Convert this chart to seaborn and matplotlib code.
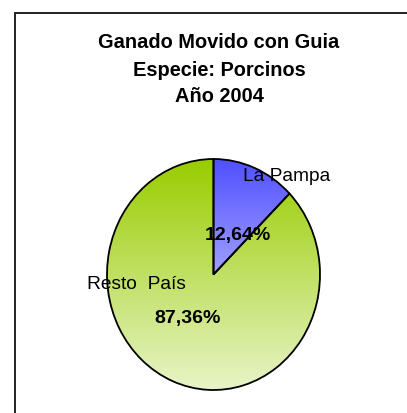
import numpy as np
import matplotlib
matplotlib.use("Agg")
import matplotlib.pyplot as plt
import matplotlib.patches as mpatches
import seaborn as sns

# data
regions = ["La Pampa", "Resto  País"]
shares = [12.64, 87.36]
pct_labels = ["12,64%", "87,36%"]
top_colors = ["#5050ff", "#99cc00"]
bottom_colors = ["#f0f0ff", "#e8f4c8"]
title_lines = ["Ganado Movido con Guia", "Especie: Porcinos", "Año 2004"]

sns.set_theme(style="white")
plt.rcParams['font.family'] = ['Liberation Sans', 'DejaVu Sans']

W, H = 407, 413
fig = plt.figure(figsize=(W / 100, H / 100), dpi=100)
fig.patch.set_facecolor("white")

# pie box in pixels (center 213.5, 274.5 from top; slightly taller than wide)
cx, cy, rx, ry = 213.5, 274.5, 106.5, 115.5
ax = fig.add_axes([(cx - rx) / W, (H - cy - ry) / H, 2 * rx / W, 2 * ry / H])

wedges, _ = ax.pie(shares, startangle=90, counterclock=False, radius=1,
                   wedgeprops=dict(edgecolor="black", linewidth=1.3))
ax.set_aspect("auto")
ax.set_xlim(-1, 1)
ax.set_ylim(-1, 1)
ax.axis("off")

# vertical gradient fill per wedge
for w, c_top, c_bot in zip(wedges, top_colors, bottom_colors):
    grad = np.array(sns.blend_palette([c_top, c_bot], n_colors=256))[:, None, :]
    im = ax.imshow(grad, extent=(-1, 1, -1, 1), aspect="auto", origin="upper",
                   zorder=0.5, interpolation="bilinear")
    im.set_clip_path(w)
    w.set_facecolor("none")
    w.set_zorder(1)

# label positions (axes data units)
name_pos = [(0.69, 0.85), (-0.72, -0.09)]
pct_pos = [(0.23, 0.34), (-0.24, -0.38)]
for name, pct, npos, ppos in zip(regions, pct_labels, name_pos, pct_pos):
    ax.text(npos[0], npos[1], name, ha="center", va="center", fontsize=13.8,
            color="black", zorder=3)
    ax.text(ppos[0], ppos[1], pct, ha="center", va="center", fontsize=14,
            fontweight="bold", color="black", zorder=3)

for i, line in enumerate(title_lines):
    fig.text(219 / W, 1 - (43 + 27 * i) / H, line, ha="center", va="center",
             fontsize=14.4, fontweight="bold", color="black")

# chart area border (only left and top visible in the crop)
fig.add_artist(mpatches.Rectangle((15 / W, -0.1), 1.0, 1 - 13 / H + 0.1,
                                  transform=fig.transFigure, fill=False,
                                  edgecolor="#222222", linewidth=1.4))

fig.savefig("out.png", dpi=100)
